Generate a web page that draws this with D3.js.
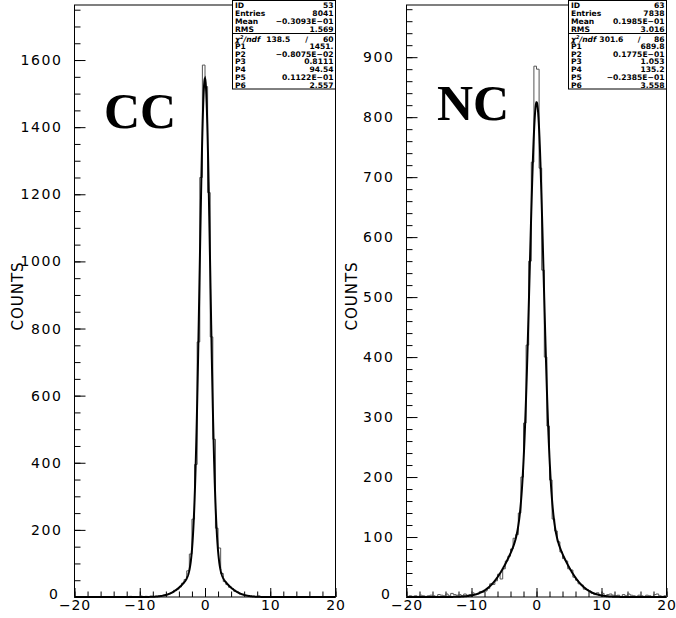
<!DOCTYPE html>
<html>
<head>
<meta charset="utf-8">
<script src="https://cdn.jsdelivr.net/npm/d3@7"></script>
<style>
body { margin: 0; background: #fff; }
</style>
</head>
<body>
<div id="viz"></div>
<script>
// 100 bins, 0.4 wide, from -20 to 20
var binLow = -20, binWidth = 0.4;
var xTicks = [-20, -10, 0, 10, 20];

var ccCounts = [
    0,0,0,0,0,0,1,0,0,0, 0,0,1,0,0,0,0,1,0,1,
    0,2,1,0,1,3,1,2,1,2, 1,2,3,4,6,7,10,13,20,23,
    30,41,52,78,128,232,395,760,1250,1585,
    1521,1205,775,470,205,146,70,46,37,29,
    25,17,15,9,8,4,3,2,2,1, 3,1,0,1,0,0,1,0,0,0,
    0,0,1,0,0,0,0,0,0,0, 0,0,0,0,0,0,0,0,0,0
];
var ncCounts = [
    1,2,1,2,1,3,2,1,2,3, 2,1,4,3,2,5,2,6,4,3,
    4,2,5,3,4,7,4,5,9,8, 10,14,22,21,27,38,30,47,60,68,
    80,98,104,140,200,290,420,560,725,885,
    880,715,545,400,285,195,130,110,92,75,
    64,60,47,45,33,28,22,20,13,12, 10,6,4,7,3,6,2,4,5,3,
    2,3,1,4,2,5,3,2,1,3, 2,1,3,2,1,4,5,2,1,2
];

var ccYTicks = [0, 200, 400, 600, 800, 1000, 1200, 1400, 1600];
var ncYTicks = [0, 100, 200, 300, 400, 500, 600, 700, 800, 900];

var ccStats = [["ID", "53"], ["Entries", "8041"], ["Mean", "\u22120.3093E\u221201"], ["RMS", "1.569"]];
var ccChi = ["138.5", "60"];
var ccPars = [["P1", "1451."], ["P2", "\u22120.8075E\u221202"], ["P3", "0.8111"],
              ["P4", "94.54"], ["P5", "0.1122E\u221201"], ["P6", "2.557"]];
var ccFit = [1451., -0.8075e-2, 0.8111, 94.54, 0.1122e-1, 2.557];

var ncStats = [["ID", "63"], ["Entries", "7838"], ["Mean", "0.1985E\u221201"], ["RMS", "3.016"]];
var ncChi = ["301.6", "86"];
var ncPars = [["P1", "689.8"], ["P2", "0.1775E\u221201"], ["P3", "1.053"],
              ["P4", "135.2"], ["P5", "\u22120.2385E\u221201"], ["P6", "3.558"]];
var ncFit = [689.8, 0.1775e-1, 1.053, 135.2, -0.2385e-1, 3.558];

var svg = d3.select("#viz")
    .append("svg:svg")
    .attr("width", 676)
    .attr("height", 618);

var tickFont = "'DejaVu Sans', sans-serif";

var panel = function(spec){
    var that = {};

    that.x0 = spec.x0;
    that.x1 = spec.x1;
    that.y0 = 5;
    that.y1 = 597;

    that.x = d3.scaleLinear().domain([-20, 20]).range([that.x0, that.x1]);
    that.y = d3.scaleLinear().domain([0, spec.ymax]).range([that.y1, that.y0]);

    that.draw = function(){
        var g = svg.append("g");

        // minor ticks first, then major ones with labels
        g.append("g")
            .attr("transform", "translate(" + that.x0 + ",0)")
            .call(d3.axisLeft(that.y).tickValues(d3.range(0, spec.ymax, spec.yminor)).tickSize(-6).tickFormat(""));
        g.append("g")
            .attr("class", "yax")
            .attr("transform", "translate(" + that.x0 + ",0)")
            .call(d3.axisLeft(that.y).tickValues(spec.yticks).tickSize(-11).tickPadding(12).tickFormat(d3.format("d")));
        g.append("g")
            .attr("transform", "translate(0," + that.y1 + ")")
            .call(d3.axisBottom(that.x).tickValues(d3.range(-20, 21, 2)).tickSize(-5.5).tickFormat(""));
        g.append("g")
            .attr("class", "xax")
            .attr("transform", "translate(0," + that.y1 + ")")
            .call(d3.axisBottom(that.x).tickValues(xTicks).tickSize(-9).tickPadding(3)
                .tickFormat(function(d){ return d < 0 ? "\u2212" + (-d) : d; }));

        g.selectAll(".domain").remove();
        g.selectAll(".tick line").attr("stroke", "#000").attr("stroke-width", 1);
        g.selectAll(".tick text")
            .style("font-family", tickFont)
            .style("font-size", "14px")
            .style("letter-spacing", "1.6px")
            .attr("fill", "#000");
        g.selectAll(".xax .tick text").style("letter-spacing", "0.8px");
        // the zero of the y axis sits a little higher and left, clear of the x labels
        g.selectAll(".yax .tick text").filter(function(d){ return d === 0; })
            .attr("dy", "0.1em").attr("dx", -3);

        g.append("rect")
            .attr("x", that.x0).attr("y", that.y0)
            .attr("width", that.x1 - that.x0).attr("height", that.y1 - that.y0)
            .attr("fill", "none").attr("stroke", "#000").attr("stroke-width", 1);

        g.append("text")
            .attr("transform", "translate(" + spec.labx + ",296) rotate(-90)")
            .attr("text-anchor", "middle")
            .attr("dy", "0.36em")
            .style("font-family", tickFont)
            .style("font-size", "15px")
            .style("letter-spacing", "1px")
            .text("COUNTS");

        // histogram outline
        var pts = [[binLow, 0]];
        spec.counts.forEach(function(c, i){
            pts.push([binLow + i * binWidth, c]);
            pts.push([binLow + (i + 1) * binWidth, c]);
        });
        pts.push([binLow + spec.counts.length * binWidth, 0]);
        g.append("path")
            .attr("d", d3.line().x(function(d){ return that.x(d[0]); }).y(function(d){ return that.y(d[1]); })(pts))
            .attr("fill", "none")
            .attr("stroke", "#555")
            .attr("stroke-width", 1);

        // double gaussian fit from the printed parameters
        var p = spec.fit;
        var fx = d3.range(-20, 20.01, 0.05);
        g.append("path")
            .attr("d", d3.line()
                .x(function(d){ return that.x(d); })
                .y(function(d){
                    return that.y(p[0] * Math.exp(-0.5 * Math.pow((d - p[1]) / p[2], 2)) +
                                  p[3] * Math.exp(-0.5 * Math.pow((d - p[4]) / p[5], 2)));
                })(fx))
            .attr("fill", "none")
            .attr("stroke", "#000")
            .attr("stroke-width", 2);

        g.append("text")
            .attr("x", spec.tag[1]).attr("y", spec.tag[2])
            .style("font-family", "'Liberation Serif', 'Times New Roman', serif")
            .style("font-weight", "bold")
            .style("font-size", "50px")
            .text(spec.tag[0]);

        that.draw_stats(g);
    }

    that.draw_stats = function(g){
        var bx = spec.boxx, bw = that.x1 - spec.boxx;
        var b = g.append("g").style("font-family", tickFont)
            .style("font-size", "7.6px").style("font-weight", "600");
        b.append("rect").attr("x", bx).attr("y", 0.5).attr("width", bw).attr("height", 33)
            .attr("fill", "#fff").attr("stroke", "#000");
        b.append("rect").attr("x", bx).attr("y", 33.5).attr("width", bw).attr("height", 55.5)
            .attr("fill", "#fff").attr("stroke", "#000");

        spec.stats.forEach(function(r, i){
            var yy = 7.5 + i * 8.2;
            b.append("text").attr("x", bx + 2.5).attr("y", yy).text(r[0]);
            b.append("text").attr("x", bx + bw - 2).attr("y", yy).attr("text-anchor", "end").text(r[1]);
        });

        var cy = 41.5;
        var chi = b.append("text").attr("x", bx + 2.5).attr("y", cy).style("font-style", "italic");
        chi.append("tspan").text("\u03c7");
        chi.append("tspan").attr("dy", -3).style("font-size", "5px").text("2");
        chi.append("tspan").attr("dy", 3).text("/ndf");
        b.append("text").attr("x", bx + bw * 0.56).attr("y", cy).attr("text-anchor", "end").text(spec.chi[0]);
        b.append("text").attr("x", bx + bw * 0.72).attr("y", cy).attr("text-anchor", "middle").text("/");
        b.append("text").attr("x", bx + bw - 2).attr("y", cy).attr("text-anchor", "end").text(spec.chi[1]);

        spec.pars.forEach(function(r, i){
            var yy = 49 + i * 7.7;
            b.append("text").attr("x", bx + 2.5).attr("y", yy).text(r[0]);
            b.append("text").attr("x", bx + bw - 2).attr("y", yy).attr("text-anchor", "end").text(r[1]);
        });
    }

    return that;
};

panel({x0: 74.5, x1: 335.5, ymax: 1764, yticks: ccYTicks, yminor: 50, labx: 18,
       counts: ccCounts, fit: ccFit, tag: ["CC", 104, 128], boxx: 232.5,
       stats: ccStats, chi: ccChi, pars: ccPars}).draw();

panel({x0: 406.5, x1: 666.5, ymax: 987, yticks: ncYTicks, yminor: 20, labx: 352,
       counts: ncCounts, fit: ncFit, tag: ["NC", 437, 120], boxx: 568.5,
       stats: ncStats, chi: ncChi, pars: ncPars}).draw();
</script>
</body>
</html>
